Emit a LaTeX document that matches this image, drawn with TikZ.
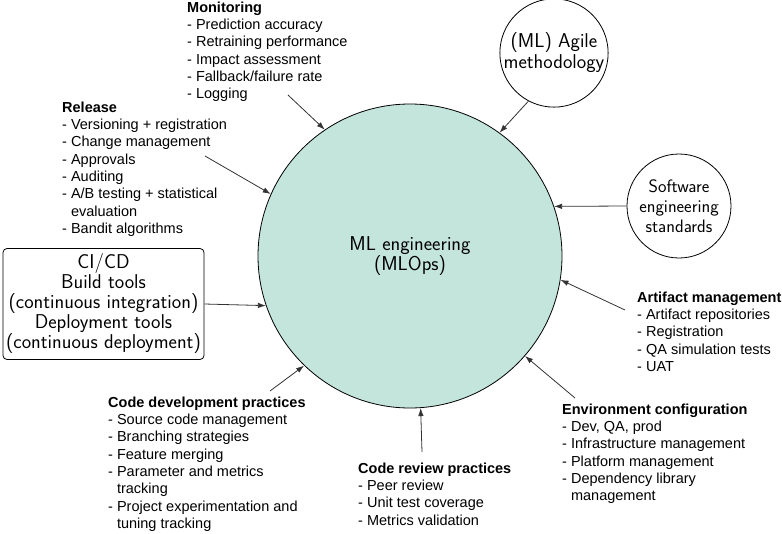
\documentclass[tikz,border=0pt]{standalone}
\usepackage{fontspec}
\setmainfont{Liberation Sans}
\usetikzlibrary{arrows.meta}
\definecolor{mlteal}{HTML}{C4E5DC}
\definecolor{linegray}{HTML}{333333}

\begin{document}
\begin{tikzpicture}[
    x=1pt, y=-1pt,
    hand/.style={font=\sffamily\fontsize{20}{20}\selectfont, align=center},
    topic/.style={anchor=north west, align=left, inner sep=0pt,
                  font=\fontsize{14.5}{17.3}\selectfont},
    bubble/.style={circle, draw, line width=0.8pt, inner sep=0pt, hand},
    feed/.style={draw=linegray, line width=0.8pt, -{Latex[length=8pt,width=5.5pt]}},
]
\useasboundingbox (0,0) rectangle (782,533);

% centre and side bubbles
\node[bubble, fill=mlteal, minimum size=304pt] (mlops) at (410,256) {ML engineering\\(MLOps)};
\node[bubble, minimum size=104pt, font=\sffamily\fontsize{20}{21}\selectfont] (agile) at (554,53) {(ML) Agile\\methodology};
\node[bubble, minimum size=104pt, font=\sffamily\fontsize{18}{20}\selectfont] (software) at (679,206) {Software\\engineering\\standards};
\node[draw, line width=0.8pt, rounded corners=4pt, minimum width=201pt, minimum height=111pt,
      inner sep=0pt, hand] (cicd) at (103.5,304)
      {CI/CD\\Build tools\\(continuous integration)\\Deployment tools\\(continuous deployment)};

% topic lists
\node[topic] (monitoring) at (187,1.5) {\textbf{Monitoring}\\- Prediction accuracy\\- Retraining performance\\- Impact assessment\\- Fallback/failure rate\\- Logging};
\node[topic] (release) at (62,101.5) {\textbf{Release}\\- Versioning + registration\\- Change management\\- Approvals\\- Auditing\\- A/B testing + statistical\\\hphantom{- }evaluation\\- Bandit algorithms};
\node[topic] (artifact) at (637,291.5) {\textbf{Artifact management}\\- Artifact repositories\\- Registration\\- QA simulation tests\\- UAT};
\node[topic] (environment) at (562,403.5) {\textbf{Environment configuration}\\- Dev, QA, prod\\- Infrastructure management\\- Platform management\\- Dependency library\\\hphantom{- }management};
\node[topic] (review) at (358,462.5) {\textbf{Code review practices}\\- Peer review\\- Unit test coverage\\- Metrics validation};
\node[topic] (development) at (108,396.5) {\textbf{Code development practices}\\- Source code management\\- Branching strategies\\- Feature merging\\- Parameter and metrics\\\hphantom{- }tracking\\- Project experimentation and\\\hphantom{- }tuning tracking};

% arrow tails
\coordinate (monitoring tail) at (288,95);
\coordinate (release tail) at (205,156);
\coordinate (artifact tail) at (625,310);
\coordinate (environment tail) at (575,398);
\coordinate (review tail) at (422,452);
\coordinate (development tail) at (270,391);

\draw[feed] (monitoring tail) -- (mlops.124);
\draw[feed] (release tail) -- (mlops.156);
\draw[feed] (cicd.east) -- (mlops.199);
\draw[feed] (agile.242) -- (mlops.54);
\draw[feed] (software.west) -- (mlops.19);
\draw[feed] (artifact tail) -- (mlops.351.5);
\draw[feed] (environment tail) -- (mlops.319.5);
\draw[feed] (review tail) -- (mlops.274.5);
\draw[feed] (development tail) -- (mlops.226.3);
\end{tikzpicture}
\end{document}
